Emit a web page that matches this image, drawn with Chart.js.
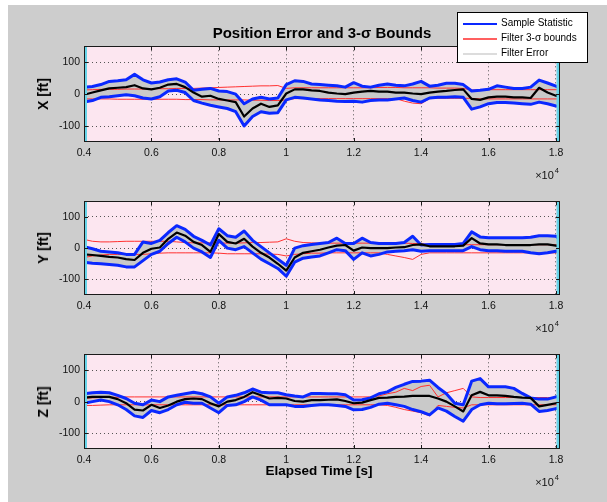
<!DOCTYPE html>
<html>
<head>
<meta charset="utf-8">
<script src="https://cdn.jsdelivr.net/npm/chart.js@4.4.1/dist/chart.umd.min.js"></script>
<style>
  html, body { margin: 0; padding: 0; }
  body { width: 607px; height: 502px; position: relative; overflow: hidden; background: #fff;
         font-family: "Liberation Sans", Arial, Helvetica, sans-serif; }
  #fig { position: absolute; left: 8px; top: 5px; right: 0; bottom: 0; background: #cdcdcd; }
  canvas { position: absolute; left: 0; }
  .txt { position: absolute; white-space: nowrap; color: #000; }
  .title { font-weight: bold; font-size: 15px; transform: translateX(-50%); }
  .ylab { font-weight: bold; font-size: 14px; transform: translate(-50%, -50%) rotate(-90deg); }
  .xlab { font-weight: bold; font-size: 13.5px; transform: translateX(-50%); }
  .mult { font-size: 11px; color: #111; }
  .mult sup { font-size: 7.5px; vertical-align: 6px; margin-left: 1px; }
  #legend { position: absolute; left: 457px; top: 12px; width: 129px; height: 49px;
            background: #fff; border: 1px solid #000; font-size: 10px; }
  #legend .row { position: absolute; left: 5px; height: 12px; }
  #legend .swatch { position: absolute; left: 0; width: 34px; }
  #legend .lbl { position: absolute; left: 38px; top: -1px; white-space: nowrap; }
</style>
</head>
<body>
<div id="fig"></div>
<script>
// elapsed time of every sample [s]
var timeSec = [4000, 4250, 4500, 4750, 5000, 5250, 5500, 5750, 6000, 6250, 6500, 6750, 7000, 7250, 7500, 7750,
  8000, 8250, 8500, 8750, 9000, 9250, 9500, 9750, 10000, 10250, 10500, 10750, 11000, 11250, 11500, 11750,
  12000, 12250, 12500, 12750, 13000, 13250, 13500, 13750, 14000, 14250, 14500, 14750, 15000, 15250, 15500, 15750,
  16000, 16250, 16500, 16750, 17000, 17250, 17500, 17750, 18000, 18100];

var xTickValues = [4000, 6000, 8000, 10000, 12000, 14000, 16000, 18000];
var xTickLabels = ['0.4', '0.6', '0.8', '1', '1.2', '1.4', '1.6', '1.8'];
var yTickValues = [-100, 0, 100];
var yTickLabels = ['-100', '0', '100'];
var axisNames = ['X [ft]', 'Y [ft]', 'Z [ft]'];
var legendNames = ['Sample Statistic', 'Filter 3-\u03c3 bounds', 'Filter Error'];

// X
var xMean = [-2, 5, 12, 18, 20, 22, 28, 18, 15, 20, 30, 32, 22, 5, -8, -5, -15, -20, -25, -70, -45, -30, -40, -35, 2,
  15, 15, 12, 10, 5, 2, 0, 5, 8, 10, 8, 8, 5, 5, 2, 0, 5, 8, 10, 13, 15, -15, -18, -10, -8, -8, -10, -10, -12, 20, 5, -5, -8];
var xSampleHi = [22, 24, 30, 40, 42, 45, 62, 45, 35, 38, 45, 48, 38, 12, 15, 18, 10, 8, 0, -30, -15, -10, -15, -12, 30,
  42, 40, 32, 30, 28, 26, 22, 36, 25, 22, 28, 32, 28, 26, 32, 40, 25, 28, 34, 34, 30, 10, 12, 15, 26, 22, 18, 18, 22, 44, 35, 25, 20];
var xSampleLo = [-25, -20, -10, -8, -5, -2, -5, -12, -15, -8, 10, 12, 5, -20, -28, -35, -40, -45, -55, -100, -70, -55, -60, -58, -18,
  -10, -12, -15, -18, -20, -22, -23, -22, -25, -20, -18, -18, -15, -12, -20, -25, -12, -10, -10, -8, -10, -47, -40, -30, -26, -26, -28, -30, -32, -25, -30, -37, -38];
var xFilterHi = [13, 14, 15, 15, 15, 16, 16, 16, 17, 17, 17, 18, 18, 18, 19, 20, 21, 22, 23, 24, 25, 26, 26, 27, 18,
  20, 20, 20, 20, 20, 20, 20, 20, 20, 20, 21, 21, 21, 20, 20, 20, 20, 19, 19, 19, 18, 13, 13, 14, 14, 14, 14, 14, 14, 14, 14, 14, 14];
var xFilterLo = [-15, -15, -15, -15, -16, -16, -16, -16, -16, -16, -16, -16, -17, -17, -17, -18, -18, -18, -18, -18, -19, -19, -20, -20, -18,
  -14, -14, -14, -14, -14, -14, -14, -14, -14, -14, -14, -14, -14, -22, -28, -30, -14, -13, -13, -13, -13, -13, -15, -15, -15, -15, -15, -15, -15, -15, -15, -15, -15];

// Y
var yMean = [-20, -22, -25, -28, -30, -35, -38, -15, -2, 2, 30, 50, 40, 20, 10, -12, 45, 20, 15, 30, 5, -15, -30, -50, -72,
  -30, -15, -10, -5, 2, 8, 10, -8, 2, 0, 0, 0, 2, 3, 10, 12, 6, 6, 6, 6, 8, 32, 15, 12, 12, 10, 10, 10, 10, 12, 12, 8, 5];
var ySampleHi = [5, -2, -10, -12, -15, -20, -20, 20, 15, 25, 50, 72, 60, 38, 25, 10, 62, 40, 35, 55, 25, 5, -15, -35, -55,
  0, 8, 12, 15, 18, 32, 15, 15, 32, 18, 15, 15, 15, 18, 38, 10, 12, 12, 12, 12, 15, 52, 36, 33, 33, 33, 33, 33, 35, 40, 40, 38, 30];
var ySampleLo = [-45, -48, -50, -52, -55, -60, -60, -40, -20, -10, 15, 35, 20, 0, -12, -30, 25, 0, -5, 5, -15, -35, -50, -65, -90,
  -45, -32, -28, -25, -15, -5, -8, -36, -15, -25, -20, -12, -10, -8, -5, -10, -8, -8, -8, -8, -8, 5, -5, -8, -8, -10, -10, -10, -15, -18, -15, -10, -8];
var yFilterHi = [28, 22, 20, 20, 21, 22, 22, 22, 22, 22, 22, 20, 18, 17, 17, 17, 17, 16, 16, 17, 18, 18, 19, 20, 30,
  22, 18, 17, 16, 16, 16, 16, 16, 16, 16, 16, 16, 16, 16, 15, 14, 12, 12, 11, 11, 11, 11, 11, 11, 11, 11, 11, 11, 11, 11, 11, 11, 11];
var yFilterLo = [-30, -25, -22, -20, -20, -20, -20, -20, -18, -16, -15, -15, -15, -15, -15, -15, -16, -18, -18, -18, -18, -18, -19, -20, -25,
  -20, -18, -16, -16, -15, -15, -15, -15, -15, -15, -15, -20, -25, -30, -36, -20, -15, -15, -15, -15, -15, -15, -15, -15, -15, -15, -15, -15, -15, -15, -15, -15, -15];

// Z
var zMean = [13, 15, 15, 15, 8, -5, -25, -28, -10, -20, -12, 0, 8, 10, 8, -5, -15, 0, 5, 15, 30, 20, 10, 12, 10,
  2, 0, 5, 5, 6, 7, 2, -5, -3, 5, 12, 13, 15, 16, 18, 18, 18, 10, 0, -15, -31, 20, 31, 20, 20, 18, 15, 13, 12, -15, -10, -5, -5];
var zSampleHi = [25, 28, 30, 28, 20, 10, -5, -10, 5, 0, 15, 20, 25, 30, 25, 15, -5, 15, 20, 28, 40, 30, 28, 28, 22,
  18, 15, 26, 26, 25, 25, 22, 5, 6, 12, 25, 31, 45, 55, 64, 65, 68, 45, 25, -5, -10, 65, 73, 47, 47, 47, 42, 26, 12, 8, 8, 15, 18];
var zSampleLo = [-5, 0, 5, 0, -10, -25, -45, -50, -28, -35, -25, -10, -2, -5, -5, -20, -35, -12, -10, 0, 15, 5, -10, -10, -10,
  -15, -15, -12, -10, -10, -12, -15, -26, -25, -18, -8, -5, -10, -15, -25, -32, -42, -20, -30, -47, -62, -25, -10, -5, -7, -7, -6, -5, -8, -31, -28, -22, -20];
var zFilterHi = [10, 12, 13, 14, 14, 15, 15, 15, 15, 15, 15, 15, 15, 15, 15, 15, 15, 15, 15, 15, 15, 15, 15, 15, 15,
  15, 15, 15, 15, 15, 15, 15, 15, 15, 15, 18, 25, 30, 42, 35, 48, 52, 15, 28, 35, 42, 15, 13, 13, 13, 13, 13, 13, 13, 13, 13, 13, 13];
var zFilterLo = [-12, -12, -11, -10, -10, -10, -10, -10, -10, -10, -10, -10, -10, -10, -10, -10, -10, -10, -10, -10, -10, -10, -10, -10, -10,
  -10, -10, -10, -10, -10, -10, -10, -10, -10, -10, -10, -12, -18, -25, -30, -35, -45, -12, -15, -18, -20, -10, -10, -10, -10, -10, -10, -10, -10, -10, -10, -10, -10];

var BLUE = '#0a28ff', RED = '#ff3030', BAND = '#c9c9c9', PINK = '#fce6f0', CYAN = '#66d4e8', INK = '#1a1a1a';
var FONT = '"Liberation Sans", Arial, sans-serif';

// pink axes background, cyan edge strips, box and inward ticks like the matlab figure
var axesFrame = {
  id: 'axesFrame',
  beforeDraw: function(chart) {
    var a = chart.chartArea, ctx = chart.ctx;
    ctx.save();
    ctx.fillStyle = PINK;
    ctx.fillRect(a.left, a.top, a.right - a.left, a.bottom - a.top);
    ctx.restore();
  },
  afterDatasetsDraw: function(chart) {
    var a = chart.chartArea, ctx = chart.ctx;
    ctx.save();
    ctx.fillStyle = CYAN;
    ctx.fillRect(a.left, a.top, 3, a.bottom - a.top);
    ctx.fillRect(a.right - 3.5, a.top, 3.5, a.bottom - a.top);
    ctx.restore();
  },
  afterDraw: function(chart) {
    var a = chart.chartArea, ctx = chart.ctx;
    var xs = chart.scales.x, ys = chart.scales.y;
    ctx.save();
    ctx.strokeStyle = INK;
    ctx.lineWidth = 1;
    ctx.strokeRect(Math.round(a.left) + 0.5, Math.round(a.top) + 0.5,
      Math.round(a.right - a.left) - 1, Math.round(a.bottom - a.top) - 1);
    ctx.beginPath();
    xTickValues.forEach(function(v) {
      var px = Math.round(xs.getPixelForValue(v)) + 0.5;
      ctx.moveTo(px, a.bottom); ctx.lineTo(px, a.bottom - 4);
      ctx.moveTo(px, a.top); ctx.lineTo(px, a.top + 4);
    });
    yTickValues.forEach(function(v) {
      var py = Math.round(ys.getPixelForValue(v)) + 0.5;
      ctx.moveTo(a.left, py); ctx.lineTo(a.left + 4, py);
      ctx.moveTo(a.right, py); ctx.lineTo(a.right - 4, py);
    });
    ctx.stroke();
    ctx.restore();
  }
};

function pts(vals) {
  return timeSec.map(function(t, i) { return { x: t, y: vals[i] }; });
}

function line(vals, color, width, fill) {
  return {
    data: pts(vals), borderColor: color, borderWidth: width, pointRadius: 0,
    tension: 0, fill: fill || false, backgroundColor: BAND, borderJoinStyle: 'round'
  };
}

function makePanel(idx, top, bottom, mean, hi, lo, fHi, fLo) {
  var padTop = 10, xAxisH = 26;
  var canvas = document.createElement('canvas');
  canvas.width = 607;
  canvas.height = (bottom - top) + padTop + xAxisH;
  canvas.style.top = (top - padTop) + 'px';
  document.body.appendChild(canvas);

  new Chart(canvas, {
    type: 'line',
    data: {
      datasets: [
        line(mean, '#000', 2.2),
        line(hi, BLUE, 3, '+1'),
        line(lo, BLUE, 3),
        line(fHi, RED, 1),
        line(fLo, RED, 1)
      ]
    },
    options: {
      responsive: false,
      animation: false,
      devicePixelRatio: 1,
      events: [],
      layout: { padding: { top: padTop, right: 47, left: 0, bottom: 0 } },
      plugins: {
        legend: { display: false },
        tooltip: { enabled: false },
        filler: { drawTime: 'beforeDatasetsDraw' }
      },
      scales: {
        x: {
          type: 'linear', min: 4000, max: 18120,
          afterBuildTicks: function(s) { s.ticks = xTickValues.map(function(v) { return { value: v }; }); },
          afterFit: function(s) { s.height = xAxisH; },
          ticks: {
            padding: 5, maxRotation: 0, color: '#111', font: { family: FONT, size: 10.5 },
            callback: function(v) { return xTickLabels[xTickValues.indexOf(v)]; }
          },
          grid: { color: '#555', lineWidth: 1, drawTicks: false },
          border: { display: false, dash: [1, 3] }
        },
        y: {
          min: -150, max: 150,
          afterBuildTicks: function(s) { s.ticks = yTickValues.map(function(v) { return { value: v }; }); },
          afterFit: function(s) { s.width = 84; },
          ticks: {
            padding: 4, color: '#111', font: { family: FONT, size: 10.5 },
            callback: function(v) { return yTickLabels[yTickValues.indexOf(v)]; }
          },
          grid: { color: '#555', lineWidth: 1, drawTicks: false },
          border: { display: false, dash: [1, 3] }
        }
      }
    },
    plugins: [axesFrame]
  });

  addText('ylab', axisNames[idx], 43, (top + bottom) / 2);
  var m = addText('mult', '\u00d710<sup>4</sup>', 0, bottom + 24);
  m.style.left = 'auto';
  m.style.right = '48px';
}

function addText(cls, html, x, y) {
  var d = document.createElement('div');
  d.className = 'txt ' + cls;
  d.innerHTML = html;
  d.style.left = x + 'px';
  d.style.top = y + 'px';
  document.body.appendChild(d);
  return d;
}

makePanel(0, 46, 142, xMean, xSampleHi, xSampleLo, xFilterHi, xFilterLo);
makePanel(1, 201, 295, yMean, ySampleHi, ySampleLo, yFilterHi, yFilterLo);
makePanel(2, 354, 449, zMean, zSampleHi, zSampleLo, zFilterHi, zFilterLo);

addText('title', 'Position Error and 3-\u03c3 Bounds', 322, 24);
addText('xlab', 'Elapsed Time [s]', 319, 463);

// legend box
var lg = document.createElement('div');
lg.id = 'legend';
var swatches = [
  { color: BLUE, h: 2.5 },
  { color: '#ff6060', h: 1.2 },
  { color: '#dcdcdc', h: 1.5 }
];
legendNames.forEach(function(name, i) {
  var row = document.createElement('div');
  row.className = 'row';
  row.style.top = (5 + i * 15) + 'px';
  row.innerHTML = '<div class="swatch" style="top:' + (6 - swatches[i].h / 2) + 'px;height:' + swatches[i].h +
    'px;background:' + swatches[i].color + '"></div><div class="lbl">' + name + '</div>';
  lg.appendChild(row);
});
document.body.appendChild(lg);
</script>
</body>
</html>
